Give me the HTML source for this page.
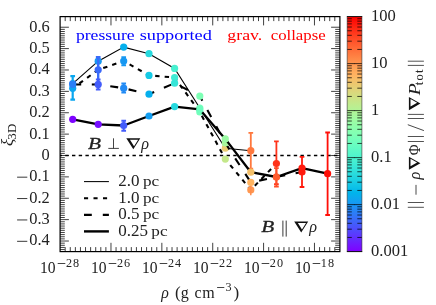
<!DOCTYPE html><html><head><meta charset="utf-8"><style>
html,body{margin:0;padding:0;background:#fff;}svg{display:block;will-change:transform;opacity:0.9999;}
text{font-family:"Liberation Serif",serif;fill:#222;}
</style></head><body>
<svg width="436" height="305" viewBox="0 0 436 305">
<rect width="436" height="305" fill="#fff"/>
<defs><linearGradient id="rb" x1="0" y1="1" x2="0" y2="0">
<stop offset="0.000" stop-color="rgb(128, 0, 255)"/>
<stop offset="0.025" stop-color="rgb(115, 20, 255)"/>
<stop offset="0.050" stop-color="rgb(102, 40, 254)"/>
<stop offset="0.075" stop-color="rgb(89, 60, 253)"/>
<stop offset="0.100" stop-color="rgb(76, 79, 252)"/>
<stop offset="0.125" stop-color="rgb(64, 98, 250)"/>
<stop offset="0.150" stop-color="rgb(51, 116, 248)"/>
<stop offset="0.175" stop-color="rgb(38, 133, 245)"/>
<stop offset="0.200" stop-color="rgb(25, 150, 243)"/>
<stop offset="0.225" stop-color="rgb(13, 166, 239)"/>
<stop offset="0.250" stop-color="rgb(0, 180, 236)"/>
<stop offset="0.275" stop-color="rgb(13, 194, 232)"/>
<stop offset="0.300" stop-color="rgb(25, 206, 227)"/>
<stop offset="0.325" stop-color="rgb(38, 217, 222)"/>
<stop offset="0.350" stop-color="rgb(51, 227, 217)"/>
<stop offset="0.375" stop-color="rgb(64, 236, 212)"/>
<stop offset="0.400" stop-color="rgb(77, 243, 206)"/>
<stop offset="0.425" stop-color="rgb(89, 248, 200)"/>
<stop offset="0.450" stop-color="rgb(102, 252, 194)"/>
<stop offset="0.475" stop-color="rgb(115, 254, 187)"/>
<stop offset="0.500" stop-color="rgb(128, 255, 180)"/>
<stop offset="0.525" stop-color="rgb(140, 254, 173)"/>
<stop offset="0.550" stop-color="rgb(153, 252, 166)"/>
<stop offset="0.575" stop-color="rgb(166, 248, 158)"/>
<stop offset="0.600" stop-color="rgb(178, 243, 150)"/>
<stop offset="0.625" stop-color="rgb(191, 236, 142)"/>
<stop offset="0.650" stop-color="rgb(204, 227, 133)"/>
<stop offset="0.675" stop-color="rgb(217, 217, 125)"/>
<stop offset="0.700" stop-color="rgb(229, 206, 116)"/>
<stop offset="0.725" stop-color="rgb(242, 194, 107)"/>
<stop offset="0.750" stop-color="rgb(255, 180, 98)"/>
<stop offset="0.775" stop-color="rgb(255, 166, 88)"/>
<stop offset="0.800" stop-color="rgb(255, 150, 79)"/>
<stop offset="0.825" stop-color="rgb(255, 133, 69)"/>
<stop offset="0.850" stop-color="rgb(255, 116, 60)"/>
<stop offset="0.875" stop-color="rgb(255, 98, 50)"/>
<stop offset="0.900" stop-color="rgb(255, 79, 40)"/>
<stop offset="0.925" stop-color="rgb(255, 60, 30)"/>
<stop offset="0.950" stop-color="rgb(255, 40, 20)"/>
<stop offset="0.975" stop-color="rgb(255, 20, 10)"/>
<stop offset="1.000" stop-color="rgb(255, 0, 0)"/>
</linearGradient></defs>
<line x1="60.1" x2="339.9" y1="155.5" y2="155.5" stroke="#000" stroke-width="1.6" stroke-dasharray="3.4 3.32" stroke-dashoffset="1.55"/>
<polyline points="72.7,83.6 98.2,61.2 123.7,47.1 149.0,53.7 174.6,68.4 199.8,108.0 225.3,148.2 250.8,150.7" fill="none" stroke="#000" stroke-width="1.1"/>
<circle cx="72.7" cy="83.6" r="3.6" fill="rgb(43, 127, 246)"/>
<circle cx="98.2" cy="61.2" r="3.6" fill="rgb(23, 153, 242)"/>
<circle cx="123.7" cy="47.1" r="3.6" fill="rgb(4, 176, 237)"/>
<circle cx="149.0" cy="53.7" r="3.6" fill="rgb(38, 217, 222)"/>
<circle cx="174.6" cy="68.4" r="3.6" fill="rgb(72, 240, 208)"/>
<circle cx="199.8" cy="108.0" r="3.6" fill="rgb(116, 254, 186)"/>
<circle cx="225.3" cy="148.2" r="3.6" fill="rgb(233, 203, 113)"/>
<circle cx="250.8" cy="150.7" r="3.6" fill="rgb(255, 120, 62)"/>
<path d="M250.8 132.9V168.7M248.45000000000002 132.9H253.15M248.45000000000002 168.7H253.15" stroke="rgb(255, 120, 62)" stroke-width="1.8" fill="none"/>
<polyline points="72.7,88.3 98.2,69.8 123.7,61.0 149.0,75.4 174.6,77.5 199.8,112.0 225.3,159.1 250.8,189.9 276.4,163.5" fill="none" stroke="#000" stroke-width="2.1" stroke-dasharray="4.4 5.1" stroke-dashoffset="1.2"/>
<circle cx="72.7" cy="88.3" r="3.6" fill="rgb(14, 164, 240)"/>
<circle cx="98.2" cy="69.8" r="3.6" fill="rgb(59, 104, 249)"/>
<circle cx="123.7" cy="61.0" r="3.6" fill="rgb(23, 152, 242)"/>
<circle cx="149.0" cy="75.4" r="3.6" fill="rgb(21, 202, 229)"/>
<circle cx="174.6" cy="77.5" r="3.6" fill="rgb(63, 235, 212)"/>
<circle cx="199.8" cy="112.0" r="3.6" fill="rgb(116, 254, 186)"/>
<circle cx="225.3" cy="159.1" r="3.6" fill="rgb(196, 232, 138)"/>
<circle cx="250.8" cy="189.9" r="3.6" fill="rgb(255, 151, 80)"/>
<circle cx="276.4" cy="163.5" r="3.6" fill="rgb(255, 51, 26)"/>
<path d="M72.7 76.2V99.6M70.35000000000001 76.2H75.05M70.35000000000001 99.6H75.05" stroke="rgb(11, 167, 239)" stroke-width="2.2" fill="none"/>
<path d="M98.2 57.2V83.4M95.85000000000001 57.2H100.55M95.85000000000001 83.4H100.55" stroke="rgb(57, 107, 249)" stroke-width="2.4" fill="none"/>
<path d="M123.7 57.3V65.3M121.35000000000001 57.3H126.05M121.35000000000001 65.3H126.05" stroke="rgb(23, 152, 242)" stroke-width="2.0" fill="none"/>
<path d="M250.8 184V195.3" stroke="rgb(255,140,75)" stroke-width="1.5"/>
<path d="M276.4 141.4V184.2M274.04999999999995 141.4H278.75M274.04999999999995 184.2H278.75" stroke="rgb(255, 51, 26)" stroke-width="1.8" fill="none"/>
<polyline points="72.7,84.5 98.2,84.4 123.7,88.2 149.0,94.2 174.6,83.2 199.8,96.1 225.3,143.0 250.8,182.4 276.4,177.0 302.0,172.0" fill="none" stroke="#000" stroke-width="2.1" stroke-dasharray="8 10.6" stroke-dashoffset="-0.5"/>
<circle cx="72.7" cy="84.5" r="3.6" fill="rgb(43, 127, 246)"/>
<circle cx="98.2" cy="84.4" r="3.6" fill="rgb(67, 92, 251)"/>
<circle cx="123.7" cy="88.2" r="3.6" fill="rgb(34, 139, 245)"/>
<circle cx="149.0" cy="94.2" r="3.6" fill="rgb(5, 175, 237)"/>
<circle cx="174.6" cy="83.2" r="3.6" fill="rgb(54, 229, 216)"/>
<circle cx="199.8" cy="96.1" r="3.6" fill="rgb(126, 255, 181)"/>
<circle cx="225.3" cy="143.0" r="3.6" fill="rgb(168, 247, 156)"/>
<circle cx="250.8" cy="182.4" r="3.6" fill="rgb(255, 179, 96)"/>
<circle cx="276.4" cy="177.0" r="3.6" fill="rgb(255, 91, 46)"/>
<circle cx="302.0" cy="172.0" r="3.6" fill="rgb(255, 27, 14)"/>
<path d="M98.2 79.4V89.4M95.85000000000001 79.4H100.55M95.85000000000001 89.4H100.55" stroke="rgb(67, 92, 251)" stroke-width="2.0" fill="none"/>
<path d="M123.7 83.6V92.6M121.35000000000001 83.6H126.05M121.35000000000001 92.6H126.05" stroke="rgb(34, 139, 245)" stroke-width="2.0" fill="none"/>
<path d="M276.4 168.1V186.5M274.04999999999995 168.1H278.75M274.04999999999995 186.5H278.75" stroke="rgb(255, 78, 39)" stroke-width="1.8" fill="none"/>
<polyline points="72.7,119.3 98.2,124.3 123.7,125.5 149.0,116.0 174.6,106.6 199.8,109.4 225.3,138.9 250.8,172.2 276.4,177.0 302.0,168.2 327.6,173.7" fill="none" stroke="#000" stroke-width="2.3" stroke-linejoin="round"/>
<circle cx="72.7" cy="119.3" r="3.6" fill="rgb(125, 3, 255)"/>
<circle cx="98.2" cy="124.3" r="3.6" fill="rgb(118, 14, 255)"/>
<circle cx="123.7" cy="125.5" r="3.6" fill="rgb(67, 92, 251)"/>
<circle cx="149.0" cy="116.0" r="3.6" fill="rgb(19, 158, 241)"/>
<circle cx="174.6" cy="106.6" r="3.6" fill="rgb(38, 217, 222)"/>
<circle cx="199.8" cy="109.4" r="3.6" fill="rgb(109, 253, 190)"/>
<circle cx="225.3" cy="138.9" r="3.6" fill="rgb(155, 251, 164)"/>
<circle cx="250.8" cy="172.2" r="3.6" fill="rgb(244, 192, 105)"/>
<circle cx="276.4" cy="177.0" r="3.6" fill="rgb(255, 91, 46)"/>
<circle cx="302.0" cy="168.2" r="3.6" fill="rgb(255, 27, 14)"/>
<circle cx="327.6" cy="173.7" r="3.6" fill="rgb(255, 15, 8)"/>
<path d="M123.7 120.7V130.8M121.35000000000001 120.7H126.05M121.35000000000001 130.8H126.05" stroke="rgb(67, 92, 251)" stroke-width="2.0" fill="none"/>
<path d="M302.0 156.9V187.0M299.65 156.9H304.35M299.65 187.0H304.35" stroke="rgb(255, 27, 14)" stroke-width="1.8" fill="none"/>
<path d="M327.6 132.5V215.0M325.25 132.5H329.95000000000005M325.25 215.0H329.95000000000005" stroke="rgb(255, 15, 8)" stroke-width="1.8" fill="none"/>
<path d="M65.19 251.6v-4.5M65.19 16.6v4.5M70.27 251.6v-4.5M70.27 16.6v4.5M75.36 251.6v-4.5M75.36 16.6v4.5M80.45 251.6v-4.5M80.45 16.6v4.5M85.54 251.6v-4.5M85.54 16.6v4.5M90.62 251.6v-4.5M90.62 16.6v4.5M95.71 251.6v-4.5M95.71 16.6v4.5M100.80 251.6v-4.5M100.80 16.6v4.5M105.89 251.6v-4.5M105.89 16.6v4.5M110.97 251.6v-8.8M110.97 16.6v8.8M116.06 251.6v-4.5M116.06 16.6v4.5M121.15 251.6v-4.5M121.15 16.6v4.5M126.23 251.6v-4.5M126.23 16.6v4.5M131.32 251.6v-4.5M131.32 16.6v4.5M136.41 251.6v-4.5M136.41 16.6v4.5M141.50 251.6v-4.5M141.50 16.6v4.5M146.58 251.6v-4.5M146.58 16.6v4.5M151.67 251.6v-4.5M151.67 16.6v4.5M156.76 251.6v-4.5M156.76 16.6v4.5M161.85 251.6v-8.8M161.85 16.6v8.8M166.93 251.6v-4.5M166.93 16.6v4.5M172.02 251.6v-4.5M172.02 16.6v4.5M177.11 251.6v-4.5M177.11 16.6v4.5M182.19 251.6v-4.5M182.19 16.6v4.5M187.28 251.6v-4.5M187.28 16.6v4.5M192.37 251.6v-4.5M192.37 16.6v4.5M197.46 251.6v-4.5M197.46 16.6v4.5M202.54 251.6v-4.5M202.54 16.6v4.5M207.63 251.6v-4.5M207.63 16.6v4.5M212.72 251.6v-8.8M212.72 16.6v8.8M217.81 251.6v-4.5M217.81 16.6v4.5M222.89 251.6v-4.5M222.89 16.6v4.5M227.98 251.6v-4.5M227.98 16.6v4.5M233.07 251.6v-4.5M233.07 16.6v4.5M238.15 251.6v-4.5M238.15 16.6v4.5M243.24 251.6v-4.5M243.24 16.6v4.5M248.33 251.6v-4.5M248.33 16.6v4.5M253.42 251.6v-4.5M253.42 16.6v4.5M258.50 251.6v-4.5M258.50 16.6v4.5M263.59 251.6v-8.8M263.59 16.6v8.8M268.68 251.6v-4.5M268.68 16.6v4.5M273.77 251.6v-4.5M273.77 16.6v4.5M278.85 251.6v-4.5M278.85 16.6v4.5M283.94 251.6v-4.5M283.94 16.6v4.5M289.03 251.6v-4.5M289.03 16.6v4.5M294.11 251.6v-4.5M294.11 16.6v4.5M299.20 251.6v-4.5M299.20 16.6v4.5M304.29 251.6v-4.5M304.29 16.6v4.5M309.38 251.6v-4.5M309.38 16.6v4.5M314.46 251.6v-8.8M314.46 16.6v8.8M319.55 251.6v-4.5M319.55 16.6v4.5M324.64 251.6v-4.5M324.64 16.6v4.5M329.73 251.6v-4.5M329.73 16.6v4.5M334.81 251.6v-4.5M334.81 16.6v4.5M60.1 249.57h4.7M339.9 249.57h-4.7M60.1 247.43h4.7M339.9 247.43h-4.7M60.1 245.30h4.7M339.9 245.30h-4.7M60.1 243.16h4.7M339.9 243.16h-4.7M60.1 241.02h8.8M339.9 241.02h-8.8M60.1 238.88h4.7M339.9 238.88h-4.7M60.1 236.74h4.7M339.9 236.74h-4.7M60.1 234.61h4.7M339.9 234.61h-4.7M60.1 232.47h4.7M339.9 232.47h-4.7M60.1 230.33h4.7M339.9 230.33h-4.7M60.1 228.19h4.7M339.9 228.19h-4.7M60.1 226.05h4.7M339.9 226.05h-4.7M60.1 223.92h4.7M339.9 223.92h-4.7M60.1 221.78h4.7M339.9 221.78h-4.7M60.1 219.64h8.8M339.9 219.64h-8.8M60.1 217.50h4.7M339.9 217.50h-4.7M60.1 215.36h4.7M339.9 215.36h-4.7M60.1 213.23h4.7M339.9 213.23h-4.7M60.1 211.09h4.7M339.9 211.09h-4.7M60.1 208.95h4.7M339.9 208.95h-4.7M60.1 206.81h4.7M339.9 206.81h-4.7M60.1 204.67h4.7M339.9 204.67h-4.7M60.1 202.54h4.7M339.9 202.54h-4.7M60.1 200.40h4.7M339.9 200.40h-4.7M60.1 198.26h8.8M339.9 198.26h-8.8M60.1 196.12h4.7M339.9 196.12h-4.7M60.1 193.98h4.7M339.9 193.98h-4.7M60.1 191.85h4.7M339.9 191.85h-4.7M60.1 189.71h4.7M339.9 189.71h-4.7M60.1 187.57h4.7M339.9 187.57h-4.7M60.1 185.43h4.7M339.9 185.43h-4.7M60.1 183.29h4.7M339.9 183.29h-4.7M60.1 181.16h4.7M339.9 181.16h-4.7M60.1 179.02h4.7M339.9 179.02h-4.7M60.1 176.88h8.8M339.9 176.88h-8.8M60.1 174.74h4.7M339.9 174.74h-4.7M60.1 172.60h4.7M339.9 172.60h-4.7M60.1 170.47h4.7M339.9 170.47h-4.7M60.1 168.33h4.7M339.9 168.33h-4.7M60.1 166.19h4.7M339.9 166.19h-4.7M60.1 164.05h4.7M339.9 164.05h-4.7M60.1 161.91h4.7M339.9 161.91h-4.7M60.1 159.78h4.7M339.9 159.78h-4.7M60.1 157.64h4.7M339.9 157.64h-4.7M60.1 155.50h8.8M339.9 155.50h-8.8M60.1 153.36h4.7M339.9 153.36h-4.7M60.1 151.22h4.7M339.9 151.22h-4.7M60.1 149.09h4.7M339.9 149.09h-4.7M60.1 146.95h4.7M339.9 146.95h-4.7M60.1 144.81h4.7M339.9 144.81h-4.7M60.1 142.67h4.7M339.9 142.67h-4.7M60.1 140.53h4.7M339.9 140.53h-4.7M60.1 138.40h4.7M339.9 138.40h-4.7M60.1 136.26h4.7M339.9 136.26h-4.7M60.1 134.12h8.8M339.9 134.12h-8.8M60.1 131.98h4.7M339.9 131.98h-4.7M60.1 129.84h4.7M339.9 129.84h-4.7M60.1 127.71h4.7M339.9 127.71h-4.7M60.1 125.57h4.7M339.9 125.57h-4.7M60.1 123.43h4.7M339.9 123.43h-4.7M60.1 121.29h4.7M339.9 121.29h-4.7M60.1 119.15h4.7M339.9 119.15h-4.7M60.1 117.02h4.7M339.9 117.02h-4.7M60.1 114.88h4.7M339.9 114.88h-4.7M60.1 112.74h8.8M339.9 112.74h-8.8M60.1 110.60h4.7M339.9 110.60h-4.7M60.1 108.46h4.7M339.9 108.46h-4.7M60.1 106.33h4.7M339.9 106.33h-4.7M60.1 104.19h4.7M339.9 104.19h-4.7M60.1 102.05h4.7M339.9 102.05h-4.7M60.1 99.91h4.7M339.9 99.91h-4.7M60.1 97.77h4.7M339.9 97.77h-4.7M60.1 95.64h4.7M339.9 95.64h-4.7M60.1 93.50h4.7M339.9 93.50h-4.7M60.1 91.36h8.8M339.9 91.36h-8.8M60.1 89.22h4.7M339.9 89.22h-4.7M60.1 87.08h4.7M339.9 87.08h-4.7M60.1 84.95h4.7M339.9 84.95h-4.7M60.1 82.81h4.7M339.9 82.81h-4.7M60.1 80.67h4.7M339.9 80.67h-4.7M60.1 78.53h4.7M339.9 78.53h-4.7M60.1 76.39h4.7M339.9 76.39h-4.7M60.1 74.26h4.7M339.9 74.26h-4.7M60.1 72.12h4.7M339.9 72.12h-4.7M60.1 69.98h8.8M339.9 69.98h-8.8M60.1 67.84h4.7M339.9 67.84h-4.7M60.1 65.70h4.7M339.9 65.70h-4.7M60.1 63.57h4.7M339.9 63.57h-4.7M60.1 61.43h4.7M339.9 61.43h-4.7M60.1 59.29h4.7M339.9 59.29h-4.7M60.1 57.15h4.7M339.9 57.15h-4.7M60.1 55.01h4.7M339.9 55.01h-4.7M60.1 52.88h4.7M339.9 52.88h-4.7M60.1 50.74h4.7M339.9 50.74h-4.7M60.1 48.60h8.8M339.9 48.60h-8.8M60.1 46.46h4.7M339.9 46.46h-4.7M60.1 44.32h4.7M339.9 44.32h-4.7M60.1 42.19h4.7M339.9 42.19h-4.7M60.1 40.05h4.7M339.9 40.05h-4.7M60.1 37.91h4.7M339.9 37.91h-4.7M60.1 35.77h4.7M339.9 35.77h-4.7M60.1 33.63h4.7M339.9 33.63h-4.7M60.1 31.50h4.7M339.9 31.50h-4.7M60.1 29.36h4.7M339.9 29.36h-4.7M60.1 27.22h8.8M339.9 27.22h-8.8" stroke="#000" stroke-width="0.75" fill="none"/>
<rect x="60.1" y="16.6" width="279.79999999999995" height="235.0" fill="none" stroke="#000" stroke-width="1.2"/>
<text transform="translate(49.7,245.42) scale(1,1.0)" font-size="17.0" text-anchor="end" textLength="20.5" lengthAdjust="spacingAndGlyphs">0.4</text>
<path d="M17.1 241.32H27.3" stroke="#222" stroke-width="0.9"/>
<text transform="translate(49.7,224.04) scale(1,1.0)" font-size="17.0" text-anchor="end" textLength="20.5" lengthAdjust="spacingAndGlyphs">0.3</text>
<path d="M17.1 219.94H27.3" stroke="#222" stroke-width="0.9"/>
<text transform="translate(49.7,202.66) scale(1,1.0)" font-size="17.0" text-anchor="end" textLength="20.5" lengthAdjust="spacingAndGlyphs">0.2</text>
<path d="M17.1 198.56H27.3" stroke="#222" stroke-width="0.9"/>
<text transform="translate(49.7,181.28) scale(1,1.0)" font-size="17.0" text-anchor="end" textLength="20.5" lengthAdjust="spacingAndGlyphs">0.1</text>
<path d="M17.1 177.18H27.3" stroke="#222" stroke-width="0.9"/>
<text transform="translate(49.7,159.90) scale(1,1.0)" font-size="17.0" text-anchor="end" textLength="8.2" lengthAdjust="spacingAndGlyphs">0</text>
<text transform="translate(49.7,138.52) scale(1,1.0)" font-size="17.0" text-anchor="end" textLength="20.5" lengthAdjust="spacingAndGlyphs">0.1</text>
<text transform="translate(49.7,117.14) scale(1,1.0)" font-size="17.0" text-anchor="end" textLength="20.5" lengthAdjust="spacingAndGlyphs">0.2</text>
<text transform="translate(49.7,95.76) scale(1,1.0)" font-size="17.0" text-anchor="end" textLength="20.5" lengthAdjust="spacingAndGlyphs">0.3</text>
<text transform="translate(49.7,74.38) scale(1,1.0)" font-size="17.0" text-anchor="end" textLength="20.5" lengthAdjust="spacingAndGlyphs">0.4</text>
<text transform="translate(49.7,53.00) scale(1,1.0)" font-size="17.0" text-anchor="end" textLength="20.5" lengthAdjust="spacingAndGlyphs">0.5</text>
<text transform="translate(49.7,31.62) scale(1,1.0)" font-size="17.0" text-anchor="end" textLength="20.5" lengthAdjust="spacingAndGlyphs">0.6</text>
<text x="40.00" y="273.2" font-size="17.0" textLength="15.6" lengthAdjust="spacingAndGlyphs">10</text>
<path d="M57.70 263.5H65.30" stroke="#222" stroke-width="0.85"/>
<text x="65.90" y="267.0" font-size="12.2" letter-spacing="1.0">28</text>
<text x="90.99" y="273.2" font-size="17.0" textLength="15.6" lengthAdjust="spacingAndGlyphs">10</text>
<path d="M108.69 263.5H116.29" stroke="#222" stroke-width="0.85"/>
<text x="116.89" y="267.0" font-size="12.2" letter-spacing="1.0">26</text>
<text x="141.99" y="273.2" font-size="17.0" textLength="15.6" lengthAdjust="spacingAndGlyphs">10</text>
<path d="M159.69 263.5H167.29" stroke="#222" stroke-width="0.85"/>
<text x="167.89" y="267.0" font-size="12.2" letter-spacing="1.0">24</text>
<text x="192.98" y="273.2" font-size="17.0" textLength="15.6" lengthAdjust="spacingAndGlyphs">10</text>
<path d="M210.68 263.5H218.28" stroke="#222" stroke-width="0.85"/>
<text x="218.88" y="267.0" font-size="12.2" letter-spacing="1.0">22</text>
<text x="243.97" y="273.2" font-size="17.0" textLength="15.6" lengthAdjust="spacingAndGlyphs">10</text>
<path d="M261.67 263.5H269.27" stroke="#222" stroke-width="0.85"/>
<text x="269.87" y="267.0" font-size="12.2" letter-spacing="1.0">20</text>
<text x="294.96" y="273.2" font-size="17.0" textLength="15.6" lengthAdjust="spacingAndGlyphs">10</text>
<path d="M312.66 263.5H320.26" stroke="#222" stroke-width="0.85"/>
<text x="320.86" y="267.0" font-size="12.2" letter-spacing="1.0">18</text>
<line x1="84.0" x2="108.9" y1="181.6" y2="181.6" stroke="#000" stroke-width="1.05"/>
<line x1="84.0" x2="108.9" y1="198.3" y2="198.3" stroke="#000" stroke-width="2.1" stroke-dasharray="4.1 5.4"/>
<line x1="84.0" x2="108.9" y1="214.9" y2="214.9" stroke="#000" stroke-width="2.1" stroke-dasharray="7.8 11.0"/>
<line x1="84.0" x2="108.9" y1="231.4" y2="231.4" stroke="#000" stroke-width="2.4"/>
<text x="118.2" y="186.10" font-size="17.0">2.0</text>
<text x="142.9" y="186.10" font-size="15.6" textLength="16.2" lengthAdjust="spacingAndGlyphs">pc</text>
<text x="118.2" y="202.80" font-size="17.0">1.0</text>
<text x="142.9" y="202.80" font-size="15.6" textLength="16.2" lengthAdjust="spacingAndGlyphs">pc</text>
<text x="118.2" y="219.40" font-size="17.0">0.5</text>
<text x="142.9" y="219.40" font-size="15.6" textLength="16.2" lengthAdjust="spacingAndGlyphs">pc</text>
<text x="118.2" y="235.90" font-size="17.0">0.25</text>
<text x="151.3" y="235.90" font-size="15.6" textLength="16.2" lengthAdjust="spacingAndGlyphs">pc</text>
<text x="75.9" y="39.7" font-size="15.5" style="fill:#0000ff" textLength="58.7" lengthAdjust="spacingAndGlyphs">pressure</text>
<text x="139.7" y="39.7" font-size="15.5" style="fill:#0000ff" textLength="72.2" lengthAdjust="spacingAndGlyphs">supported</text>
<text x="227.3" y="39.7" font-size="15.5" style="fill:#ff0000" textLength="35.0" lengthAdjust="spacingAndGlyphs">grav.</text>
<text x="270.7" y="39.7" font-size="15.5" style="fill:#ff0000" textLength="55.0" lengthAdjust="spacingAndGlyphs">collapse</text>
<text x="88.0" y="148.8" font-size="16.8" font-style="italic" stroke="#222" stroke-width="0.28" textLength="13.0" lengthAdjust="spacingAndGlyphs">B</text>
<path d="M108.3 148.4H118.9M113.5 148.4V138.3" stroke="#222" stroke-width="0.85" fill="none"/>
<path fill-rule="evenodd" fill="#111" d="M126.30 138.20H140.30L133.30 149.20Z M129.97 139.80H138.13L134.05 146.21Z"/>
<text x="141.2" y="148.7" font-size="16.2" font-style="italic">ρ</text>
<text x="261.3" y="232.3" font-size="16.8" font-style="italic" stroke="#222" stroke-width="0.28" textLength="13.0" lengthAdjust="spacingAndGlyphs">B</text>
<path d="M282.9 220.6V236.6M286.2 220.6V236.6" stroke="#222" stroke-width="0.9" fill="none"/>
<path fill-rule="evenodd" fill="#111" d="M294.20 221.40H308.20L301.20 232.40Z M297.87 223.00H306.03L301.95 229.41Z"/>
<text x="309.2" y="232.4" font-size="16.2" font-style="italic">ρ</text>
<text x="161.2" y="297.5" font-size="15.8" font-style="italic">ρ</text>
<text x="174.9" y="297.5" font-size="17.0">(</text>
<text x="180.7" y="297.5" font-size="16">g</text>
<text x="194.6" y="297.5" font-size="16" letter-spacing="0.5">cm</text>
<path d="M217.1 287.5H224.3" stroke="#222" stroke-width="0.85"/>
<text x="225.6" y="291.3" font-size="12.2">3</text>
<text x="233.6" y="297.5" font-size="17.0">)</text>
<text transform="translate(13.3,146.0) rotate(-90)" font-size="16.8"><tspan font-style="italic">ξ</tspan><tspan font-size="13" dx="-1.0" dy="2.5" letter-spacing="0.4">3D</tspan></text>
<rect x="347.2" y="16.6" width="14.699999999999989" height="235.0" fill="url(#rb)"/>
<path d="M347.2 237.45h4.6M361.9 237.45h-4.6M347.2 229.18h4.6M361.9 229.18h-4.6M347.2 223.30h4.6M361.9 223.30h-4.6M347.2 218.75h4.6M361.9 218.75h-4.6M347.2 215.03h4.6M361.9 215.03h-4.6M347.2 211.88h4.6M361.9 211.88h-4.6M347.2 209.15h4.6M361.9 209.15h-4.6M347.2 206.75h4.6M361.9 206.75h-4.6M347.2 204.60h7.6M361.9 204.60h-7.6M347.2 190.45h4.6M361.9 190.45h-4.6M347.2 182.18h4.6M361.9 182.18h-4.6M347.2 176.30h4.6M361.9 176.30h-4.6M347.2 171.75h4.6M361.9 171.75h-4.6M347.2 168.03h4.6M361.9 168.03h-4.6M347.2 164.88h4.6M361.9 164.88h-4.6M347.2 162.15h4.6M361.9 162.15h-4.6M347.2 159.75h4.6M361.9 159.75h-4.6M347.2 157.60h7.6M361.9 157.60h-7.6M347.2 143.45h4.6M361.9 143.45h-4.6M347.2 135.18h4.6M361.9 135.18h-4.6M347.2 129.30h4.6M361.9 129.30h-4.6M347.2 124.75h4.6M361.9 124.75h-4.6M347.2 121.03h4.6M361.9 121.03h-4.6M347.2 117.88h4.6M361.9 117.88h-4.6M347.2 115.15h4.6M361.9 115.15h-4.6M347.2 112.75h4.6M361.9 112.75h-4.6M347.2 110.60h7.6M361.9 110.60h-7.6M347.2 96.45h4.6M361.9 96.45h-4.6M347.2 88.18h4.6M361.9 88.18h-4.6M347.2 82.30h4.6M361.9 82.30h-4.6M347.2 77.75h4.6M361.9 77.75h-4.6M347.2 74.03h4.6M361.9 74.03h-4.6M347.2 70.88h4.6M361.9 70.88h-4.6M347.2 68.15h4.6M361.9 68.15h-4.6M347.2 65.75h4.6M361.9 65.75h-4.6M347.2 63.60h7.6M361.9 63.60h-7.6M347.2 49.45h4.6M361.9 49.45h-4.6M347.2 41.18h4.6M361.9 41.18h-4.6M347.2 35.30h4.6M361.9 35.30h-4.6M347.2 30.75h4.6M361.9 30.75h-4.6M347.2 27.03h4.6M361.9 27.03h-4.6M347.2 23.88h4.6M361.9 23.88h-4.6M347.2 21.15h4.6M361.9 21.15h-4.6M347.2 18.75h4.6M361.9 18.75h-4.6" stroke="#000" stroke-width="0.72" fill="none"/>
<path d="M347.2 16.6V251.6M361.9 16.6V251.6" fill="none" stroke="#222" stroke-width="0.55"/>
<path d="M346.84999999999997 16.6H362.25M346.84999999999997 251.6H362.25" fill="none" stroke="#000" stroke-width="0.95"/>
<text transform="translate(371.0,256.30) scale(1,1.0)" font-size="17.0" text-anchor="start" textLength="37.18" lengthAdjust="spacingAndGlyphs">0.001</text>
<text transform="translate(371.0,209.30) scale(1,1.0)" font-size="17.0" text-anchor="start" textLength="28.92" lengthAdjust="spacingAndGlyphs">0.01</text>
<text transform="translate(371.0,162.30) scale(1,1.0)" font-size="17.0" text-anchor="start" textLength="20.66" lengthAdjust="spacingAndGlyphs">0.1</text>
<text transform="translate(371.0,115.30) scale(1,1.0)" font-size="17.0" text-anchor="start" textLength="8.26" lengthAdjust="spacingAndGlyphs">1</text>
<text transform="translate(371.0,68.30) scale(1,1.0)" font-size="17.0" text-anchor="start" textLength="16.52" lengthAdjust="spacingAndGlyphs">10</text>
<text transform="translate(371.0,21.30) scale(1,1.0)" font-size="17.0" text-anchor="start" textLength="24.79" lengthAdjust="spacingAndGlyphs">100</text>
<g transform="translate(420.0,207.8) rotate(-90)" fill="#222" stroke="none">
<path d="M0.5 -12.2V3.9M5.3 -12.2V3.9" stroke="#333" stroke-width="0.85" fill="none"/>
<path d="M13.1 -4.0H22.9" stroke="#333" stroke-width="0.9" fill="none"/>
<text x="28.2" y="0" font-size="16.2" font-style="italic">ρ</text>
<path fill-rule="evenodd" fill="#111" d="M38.00 -11.10H51.00L44.50 0.40Z M41.55 -9.50H48.95L45.25 -2.96Z"/>
<text x="52.6" y="0" font-size="17" textLength="10.8" lengthAdjust="spacingAndGlyphs">Φ</text>
<path d="M66.3 -12.2V3.9M71.3 -12.2V3.9" stroke="#333" stroke-width="0.85" fill="none"/>
<path d="M77.2 3.9L83.1 -12.2" stroke="#333" stroke-width="0.9" fill="none"/>
<path d="M89.3 -12.2V3.9M93.4 -12.2V3.9" stroke="#333" stroke-width="0.85" fill="none"/>
<path fill-rule="evenodd" fill="#111" d="M97.60 -11.10H110.90L104.25 0.40Z M101.18 -9.50H108.82L105.00 -2.89Z"/>
<text x="112.6" y="0" font-size="17" font-style="italic" textLength="12.0" lengthAdjust="spacingAndGlyphs">P</text>
<text x="122.6" y="3.0" font-size="12.5" letter-spacing="1.3">tot</text>
<path d="M142.4 -12.2V3.9M146.6 -12.2V3.9" stroke="#333" stroke-width="0.85" fill="none"/>
</g>
</svg></body></html>
